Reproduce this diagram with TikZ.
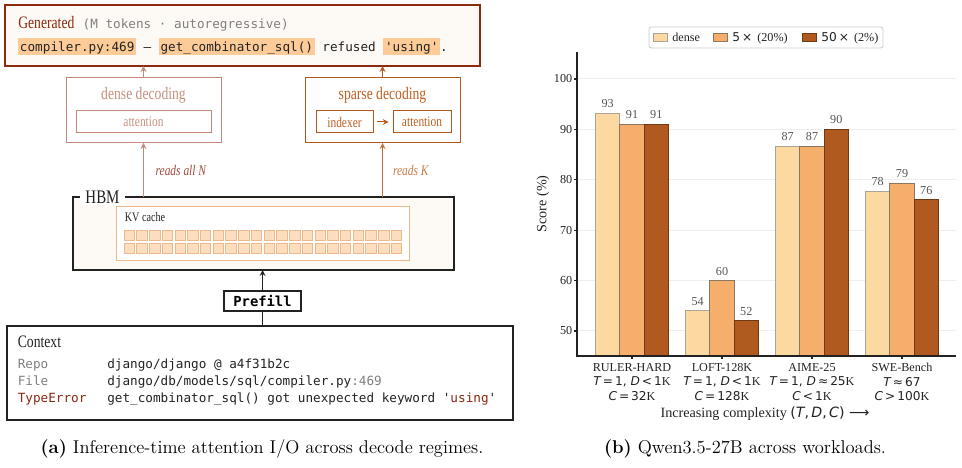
\documentclass[tikz,border=0pt]{standalone}
\usepackage{fontspec}
\usepackage{tikz}
\usetikzlibrary{arrows,shapes,calc,positioning}
\setmonofont{DejaVu Sans Mono}
\newfontfamily\titlefont[FakeStretch=0.78]{Liberation Serif}
\newfontfamily\chartfont{Liberation Serif}
\newfontfamily\mathfont{DejaVu Sans}
\definecolor{genRed}{RGB}{139,42,14}
\definecolor{cream}{RGB}{253,249,244}
\definecolor{hlOrange}{RGB}{253,203,151}
\definecolor{codeGray}{RGB}{128,128,128}
\definecolor{errRed}{RGB}{140,40,16}
\definecolor{inkBlack}{RGB}{34,34,34}
\definecolor{denseRose}{RGB}{196,137,122}
\definecolor{denseText}{RGB}{196,144,127}
\definecolor{readsAllText}{RGB}{156,74,58}
\definecolor{sparseOrange}{RGB}{181,86,26}
\definecolor{sparseText}{RGB}{189,95,32}
\definecolor{readsKText}{RGB}{197,122,69}
\definecolor{kvEdge}{RGB}{235,185,141}
\definecolor{kvFill}{RGB}{252,221,189}
\definecolor{barDense}{RGB}{253,217,162}
\definecolor{barFive}{RGB}{246,174,108}
\definecolor{barFifty}{RGB}{176,90,32}
\definecolor{edgeDense}{RGB}{169,163,154}
\definecolor{edgeFive}{RGB}{138,119,98}
\definecolor{edgeFifty}{RGB}{110,58,20}
\definecolor{gridGray}{RGB}{238,238,238}
\definecolor{valGray}{RGB}{85,85,85}
\definecolor{legendEdge}{RGB}{204,204,204}

\newcommand{\hlcode}[1]{{\setlength{\fboxsep}{0pt}\colorbox{hlOrange}{\rule[-2.2pt]{0pt}{10.4pt}\kern1pt#1\kern1pt}}}
\newcommand{\mv}[1]{{\mathfont\itshape #1}}
\newcommand{\mr}[1]{{\mathfont #1}}

\tikzstyle{box}      =[draw, rectangle, inner sep=0pt, outer sep=0pt]
\tikzstyle{genbox}   =[box, draw=genRed, fill=cream, line width=0.65pt,
                       minimum width=285pt, minimum height=36.6pt]
\tikzstyle{decbox}   =[box, line width=0.6pt,
                       minimum width=93pt, minimum height=39pt]
\tikzstyle{innerbox} =[box, line width=0.6pt, minimum height=13.2pt,
                       font=\titlefont\fontsize{8.8}{10}\selectfont]
\tikzstyle{darkbox}  =[box, draw=inkBlack, line width=0.7pt]
\tikzstyle{kvcell}   =[box, draw=kvEdge, fill=kvFill, line width=0.5pt,
                       minimum size=6.3pt]
\tikzstyle{title}    =[anchor=base, inner sep=0pt,
                       font=\titlefont\fontsize{10.5}{12}\selectfont]
\tikzstyle{codetext} =[anchor=base west, inner sep=0pt, text=inkBlack,
                       font=\ttfamily\fontsize{7.6}{9}\selectfont]
\tikzstyle{uparrow}  =[-stealth, line width=0.6pt]
\tikzstyle{readlabel}=[inner sep=0pt,
                       font=\titlefont\itshape\fontsize{8.8}{10}\selectfont]
\tikzstyle{gridline} =[draw=gridGray, line width=0.6pt]
\tikzstyle{axisline} =[draw=inkBlack, line width=0.7pt]
\tikzstyle{ticklabel}=[inner sep=0pt, text=inkBlack,
                       font=\chartfont\fontsize{7.3}{8.6}\selectfont]
\tikzstyle{vallabel} =[ticklabel, text=valGray, above=3pt]
\tikzstyle{bar}      =[line width=0.6pt]
\tikzstyle{patch}    =[box, line width=0.5pt,
                       minimum width=8.4pt, minimum height=4.8pt]
\tikzstyle{caption}  =[anchor=base, inner sep=0pt, font=\fontsize{11.1}{13}\selectfont]

\begin{document}
\begin{tikzpicture}[x=0.6pt, y=-0.6pt]
\useasboundingbox (0,0) rectangle (962,468);

%%%%%%%%%%%%%%%%%%%%%%%%%%%%%%%%%%%%%%%%%%%%%%%%
%%%%%%%%%%        Generated box       %%%%%%%%%%
%%%%%%%%%%%%%%%%%%%%%%%%%%%%%%%%%%%%%%%%%%%%%%%%
\node (gen) [genbox] at (242.5,35.5){};
\node (genhead) [anchor=base west, inner sep=0pt] at (18,28.5)
  {{\titlefont\fontsize{10.5}{12}\selectfont\color{genRed}Generated}\hspace{5pt}%
   {\ttfamily\fontsize{7.6}{9}\selectfont\color{codeGray}(M tokens · autoregressive)}};
\node (genline) [codetext] at (18,51.5)
  {\hlcode{compiler.py:469} — \hlcode{get\_combinator\_sql()} refused \hlcode{'using'}.};

%%%%%%%%%%%%%%%%%%%%%%%%%%%%%%%%%%%%%%%%%%%%%%%%
%%%%%%%%%%     Dense / sparse decoding  %%%%%%%%
%%%%%%%%%%%%%%%%%%%%%%%%%%%%%%%%%%%%%%%%%%%%%%%%
\node (dense) [decbox, draw=denseRose] at (143.5,110.5){};
\node (denseT) [title, text=denseText] at (143.5,99.5){dense decoding};
\node (denseAtt) [innerbox, draw=denseRose, text=denseText,
                  minimum width=81pt] at (143.5,122){attention};

\node (sparse) [decbox, draw=sparseOrange] at (382.5,110.5){};
\node (sparseT) [title, text=sparseText] at (382.5,99.5){sparse decoding};
\node (idx) [innerbox, draw=sparseOrange, text=sparseText,
             minimum width=34.2pt] at (344.5,122){indexer};
\node (spAtt) [innerbox, draw=sparseOrange, text=sparseText,
               minimum width=34.8pt] at (422,122){attention};
\draw [-stealth, sparseOrange, line width=0.6pt,
       shorten <=2.6pt, shorten >=2.6pt] (idx) -- (spAtt);

\draw [uparrow, denseRose] (dense.north) -- (dense.north |- gen.south);
\draw [uparrow, sparseOrange] (sparse.north) -- (sparse.north |- gen.south);

%%%%%%%%%%%%%%%%%%%%%%%%%%%%%%%%%%%%%%%%%%%%%%%%
%%%%%%%%%%         HBM + KV cache     %%%%%%%%%%
%%%%%%%%%%%%%%%%%%%%%%%%%%%%%%%%%%%%%%%%%%%%%%%%
\node (hbm) [darkbox, fill=cream, minimum width=228.6pt,
             minimum height=43.8pt] at (263.5,233.5){};
\node (hbmL) [fill=white, inner xsep=3pt, inner ysep=1pt, text=inkBlack,
              font=\titlefont\fontsize{11.5}{13}\selectfont] at (102.5,197.5){HBM};
\node (kv) [box, draw=kvEdge, fill=white, line width=0.6pt,
            minimum width=175.8pt, minimum height=32.4pt] at (262.5,234){};
\node (kvL) [anchor=base west, inner sep=0pt, text=inkBlack,
             font=\titlefont\fontsize{7.8}{9}\selectfont] at (124.5,221.5){KV cache};
\foreach \c in {0,...,21}
  \foreach \r in {0,1}
    \node (kv\c-\r) [kvcell] at ({129.25+12.73*\c},{235.25+13*\r}){};

\draw [uparrow, denseRose] (dense.south |- hbm.north) -- (dense.south)
  node (readsAll) [readlabel, text=readsAllText, midway, right=7pt]{reads all N};
\draw [uparrow, sparseOrange!85!white] (sparse.south |- hbm.north) -- (sparse.south)
  node (readsK) [readlabel, text=readsKText, midway, right=6pt]{reads K};

%%%%%%%%%%%%%%%%%%%%%%%%%%%%%%%%%%%%%%%%%%%%%%%%
%%%%%%%%%%        Prefill + context   %%%%%%%%%%
%%%%%%%%%%%%%%%%%%%%%%%%%%%%%%%%%%%%%%%%%%%%%%%%
\node (prefill) [darkbox, fill=white, minimum width=46.2pt, minimum height=12pt,
                 font=\ttfamily\bfseries\fontsize{8.3}{9}\selectfont] at (262.5,301){Prefill};
\draw [uparrow, inkBlack] (prefill.north) -- (prefill.north |- hbm.south);

\node (ctx) [darkbox, fill=white, minimum width=303.6pt,
             minimum height=56.4pt] at (260,373){};
\draw [inkBlack, line width=0.6pt] (prefill.south) -- (prefill.south |- ctx.north);
\node (ctxT) [title, anchor=base west, text=inkBlack] at (17.5,347.5){Context};
\node (labRepo) [codetext, text=codeGray] at (17.5,369){Repo};
\node (labFile) [codetext, text=codeGray] at (17.5,386){File};
\node (labErr)  [codetext, text=errRed]   at (17.5,403){TypeError};
\node (valRepo) [codetext] at (107,369){django/django @ a4f31b2c};
\node (valFile) [codetext] at (107,386){django/db/models/sql/compiler.py{\color{codeGray}:469}};
\node (valErr)  [codetext] at (107,403){get\_combinator\_sql() got unexpected keyword '{\color{errRed}using}'};

\node (capA) [caption] at (262,454)
  {\textbf{(a)} Inference-time attention I/O across decode regimes.};

%%%%%%%%%%%%%%%%%%%%%%%%%%%%%%%%%%%%%%%%%%%%%%%%
%%%%%%%%%%          Bar chart         %%%%%%%%%%
%%%%%%%%%%%%%%%%%%%%%%%%%%%%%%%%%%%%%%%%%%%%%%%%
\begin{scope}
\foreach \v in {50,60,...,100}{
  \draw [gridline] (577,{331-(\v-50)*5.04}) -- (956,{331-(\v-50)*5.04});
  \draw [axisline] (574,{331-(\v-50)*5.04}) -- (577,{331-(\v-50)*5.04});
  \node (ytick\v) [ticklabel, anchor=east] at (572.5,{331-(\v-50)*5.04}){\v};
}

\foreach \gx/\a/\b/\c/\name in {632/93.2/91/91/ruler, 722/54/60/52/loft,
                                812/86.7/86.7/90/aime, 902/77.7/79.3/76/swe}{
  \draw [bar, fill=barDense, draw=edgeDense]
    ({\gx-36.45},356) rectangle ({\gx-12.15},{331-(\a-50)*5.04});
  \draw [bar, fill=barFive, draw=edgeFive]
    ({\gx-12.15},356) rectangle ({\gx+12.15},{331-(\b-50)*5.04});
  \draw [bar, fill=barFifty, draw=edgeFifty]
    ({\gx+12.15},356) rectangle ({\gx+36.45},{331-(\c-50)*5.04});
  \pgfmathtruncatemacro\la{round(\a)}
  \pgfmathtruncatemacro\lb{round(\b)}
  \pgfmathtruncatemacro\lc{round(\c)}
  \node (\name Dense) [vallabel] at ({\gx-24.3},{331-(\a-50)*5.04}){\la};
  \node (\name Five)  [vallabel] at (\gx,{331-(\b-50)*5.04}){\lb};
  \node (\name Fifty) [vallabel] at ({\gx+24.3},{331-(\c-50)*5.04}){\lc};
  \draw [axisline] (\gx,356) -- (\gx,359.5);
}
\draw [axisline] (577,52) -- (577,356) -- (956,356);

% tick labels
\node (xRuler) [ticklabel, anchor=north, align=center] at (632,363)
  {RULER-HARD\\\mv{T}\mr{\,=\,1,\ }\mv{D}\mr{\,<\,1}K\\\mv{C}\mr{\,=\,32}K};
\node (xLoft) [ticklabel, anchor=north, align=center] at (722,363)
  {LOFT-128K\\\mv{T}\mr{\,=\,1,\ }\mv{D}\mr{\,<\,1}K\\\mv{C}\mr{\,=\,128}K};
\node (xAime) [ticklabel, anchor=north, align=center] at (812,363)
  {AIME-25\\\mv{T}\mr{\,=\,1,\ }\mv{D}\mr{\,≈\,25}K\\\mv{C}\mr{\,<\,1}K};
\node (xSwe) [ticklabel, anchor=north, align=center] at (902,363)
  {SWE-Bench\\\mv{T}\mr{\,≈\,67}\\\mv{C}\mr{\,>\,100}K};

\node (ylab) [rotate=90, inner sep=0pt, text=inkBlack,
              font=\chartfont\fontsize{8.5}{10}\selectfont] at (543,204){Score (\%)};
\node (xlab) [anchor=base, inner sep=0pt, text=inkBlack,
              font=\chartfont\fontsize{8.5}{10}\selectfont] at (765,418)
  {Increasing complexity \mr{(}\mv{T}\mr{,\,}\mv{D}\mr{,\,}\mv{C}\mr{)\ ⟶}};

% legend
\node (leg) [box, draw=legendEdge, fill=white, rounded corners=1.5pt, line width=0.5pt,
             minimum width=140.4pt, minimum height=12.6pt] at (766,37.5){};
\node (patchDense) [patch, fill=barDense, draw=edgeDense] at (660,37){};
\node (legDense) [ticklabel, anchor=base west] at (672,41.5){dense};
\node (patchFive) [patch, fill=barFive, draw=edgeFive] at (720,37){};
\node (legFive) [ticklabel, anchor=base west] at (732,41.5){\mr{5\,×}\hspace{3pt}(20\%)};
\node (patchFifty) [patch, fill=barFifty, draw=edgeFifty] at (809,37){};
\node (legFifty) [ticklabel, anchor=base west] at (821,41.5){\mr{50\,×}\hspace{3pt}(2\%)};
\end{scope}

\node (capB) [caption] at (745,454){\textbf{(b)} Qwen3.5-27B across workloads.};

\end{tikzpicture}
\end{document}
